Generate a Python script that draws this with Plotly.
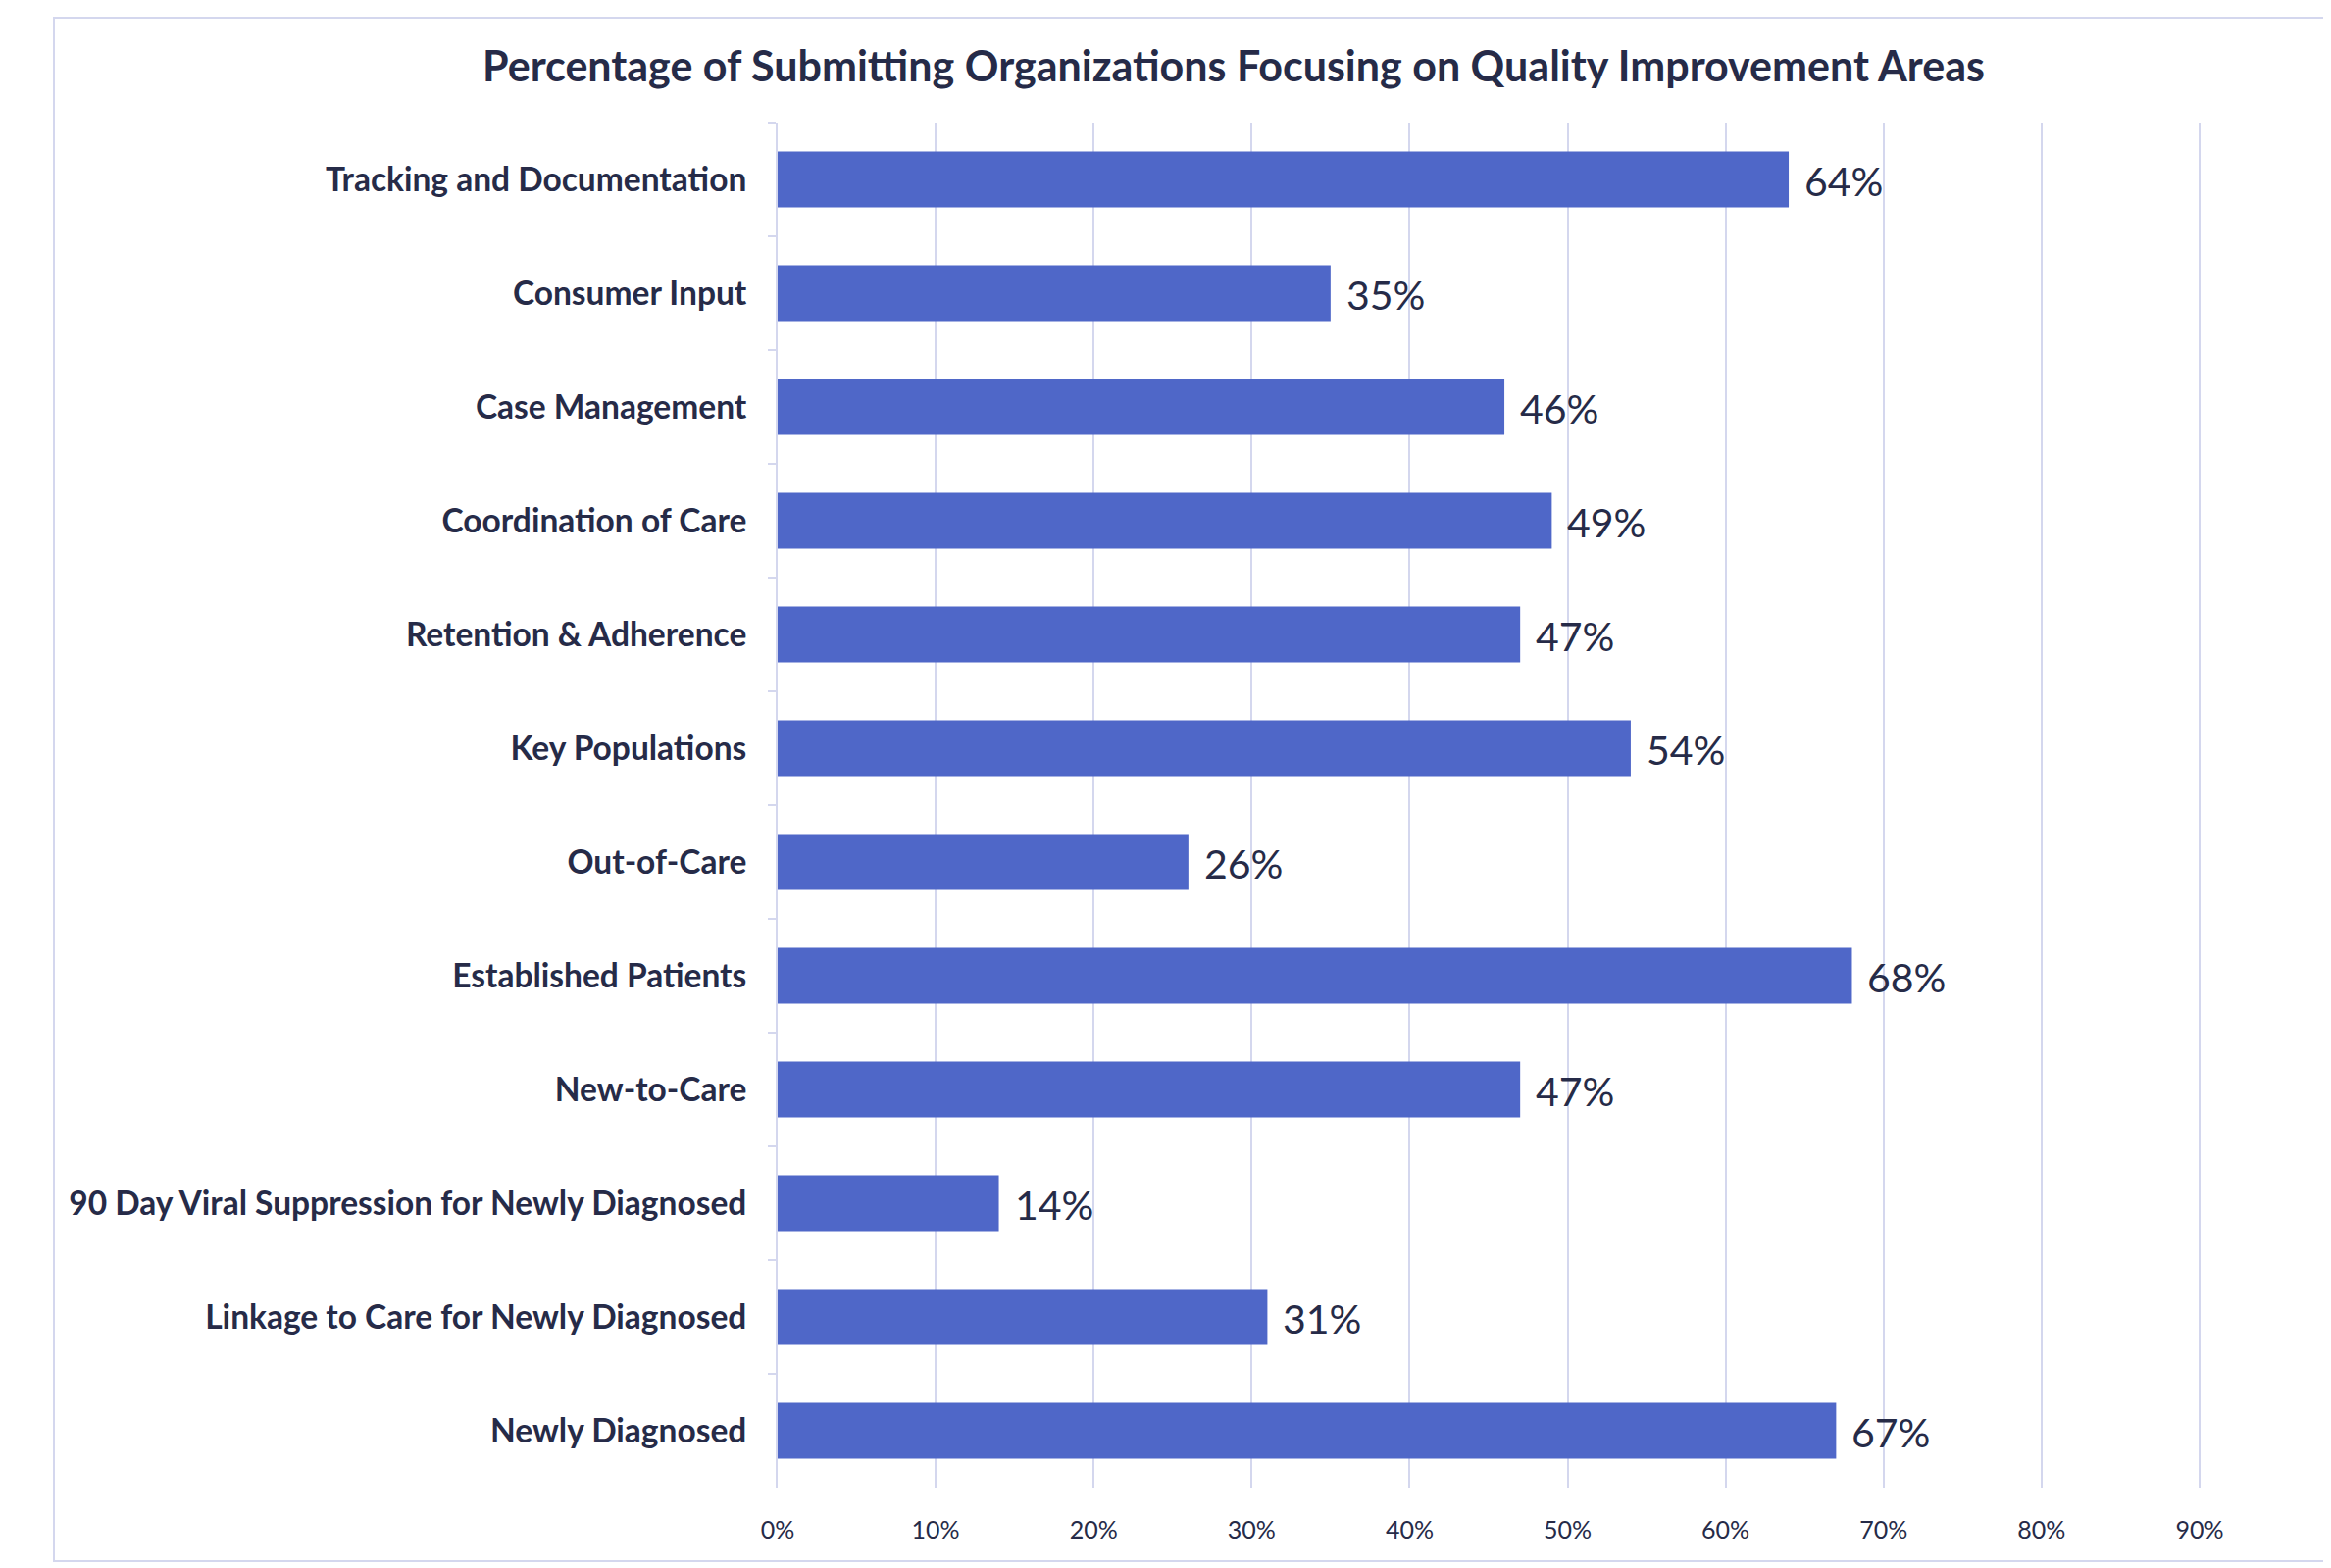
import plotly.graph_objects as go

categories = [
    "Tracking and Documentation",
    "Consumer Input",
    "Case Management",
    "Coordination of Care",
    "Retention & Adherence",
    "Key Populations",
    "Out-of-Care",
    "Established Patients",
    "New-to-Care",
    "90 Day Viral Suppression for Newly Diagnosed",
    "Linkage to Care for Newly Diagnosed",
    "Newly Diagnosed",
]
values = [0.64, 0.35, 0.46, 0.49, 0.47, 0.54, 0.26, 0.68, 0.47, 0.14, 0.31, 0.67]
tick_vals = [0, 0.1, 0.2, 0.3, 0.4, 0.5, 0.6, 0.7, 0.8, 0.9, 1.0]
tick_text = ["0%", "10%", "20%", "30%", "40%", "50%", "60%", "70%", "80%", "90%", "100%"]
title_text = "Percentage of Submitting Organizations Focusing on Quality Improvement Areas"

BAR = "#4F67C8"
TXT = "#262B48"
GRID = "#D4D7EE"
FONT = "Lato"

OFF = 8  # page body margin
W, H = 2480, 1599
L, R = 793 - OFF, 2404 - OFF
T, B = 125 - OFF, 1517 - OFF

fig = go.Figure()
fig.add_trace(go.Bar(
    x=values, y=categories, orientation="h",
    marker=dict(color=BAR, line=dict(width=0)),
    width=0.49,
    hoverinfo="skip",
))

for c, v in zip(categories, values):
    fig.add_annotation(
        x=v, y=c, xref="x", yref="y",
        text=f"{round(v * 100)}%", showarrow=False,
        xanchor="left", yanchor="middle", xshift=14, yshift=-1,
        font=dict(family=FONT, size=41, color=TXT),
    )

pw = R - L
ph = B - T
fig.add_shape(
    type="rect", xref="paper", yref="paper",
    x0=(55 - OFF - L) / pw, x1=(2470 - L) / pw,
    y0=(B - (1592 - OFF)) / ph, y1=(B - (18 - OFF)) / ph,
    line=dict(color=GRID, width=2), fillcolor="rgba(0,0,0,0)", layer="below",
)

fig.update_layout(
    width=W, height=H,
    margin=dict(l=L, r=W - R, t=T, b=H - B, pad=0),
    paper_bgcolor="white", plot_bgcolor="white",
    showlegend=False,
    title=dict(
        text=f"<b>{title_text}</b>",
        x=(1258 - OFF) / W, xref="container", xanchor="center",
        y=1 - (68 - OFF) / H, yref="container", yanchor="middle",
        font=dict(family=FONT, size=43, color=TXT),
    ),
    font=dict(family=FONT, color=TXT),
)
fig.update_xaxes(
    range=[0, 1], tickvals=tick_vals, ticktext=tick_text,
    showgrid=True, gridcolor=GRID, gridwidth=2,
    zeroline=False, showline=False, ticks="",
    tickfont=dict(family=FONT, size=25, color=TXT),
    ticklabelstandoff=26,
)
fig.update_yaxes(
    categoryorder="array", categoryarray=categories, autorange="reversed",
    showgrid=False, zeroline=False,
    showline=True, linecolor=GRID, linewidth=2,
    ticks="outside", tickson="boundaries", ticklen=8, tickcolor=GRID, tickwidth=2,
    tickfont=dict(family=FONT, size=33.5, color=TXT),
    tickprefix="<b>", ticksuffix="</b>",
    ticklabelstandoff=23,
)

fig.write_html("out.html")
